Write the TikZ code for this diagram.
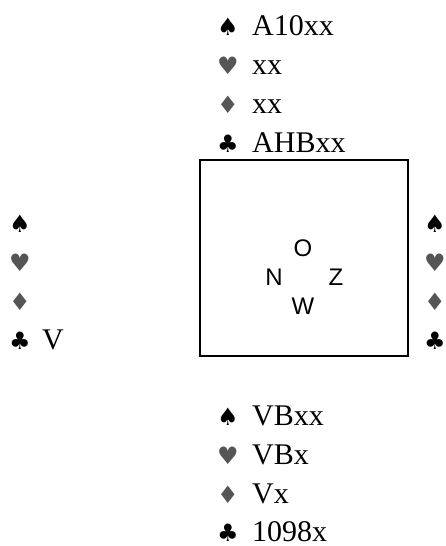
\documentclass[tikz,border=0pt]{standalone}
\usepackage{fontspec}
\setmainfont{Liberation Serif}
\newfontfamily\suitfont{DejaVu Sans}
\newfontfamily\compassfont{Liberation Sans}
\definecolor{suitgray}{HTML}{555555}
\begin{document}
\begin{tikzpicture}[x=1pt,y=-1pt,
  suit/.style={inner sep=0pt,anchor=base,font=\suitfont\fontsize{24}{24}\selectfont},
  blk/.style={suit,text=black},
  red/.style={suit,text=suitgray},
  holding/.style={inner sep=0pt,anchor=base west,font=\fontsize{30}{33}\selectfont},
  compass/.style={inner sep=0pt,anchor=center,font=\compassfont\fontsize{24}{24}\selectfont},
  table/.style={draw,line width=1.5pt}]
\useasboundingbox (0,0) rectangle (445,546);
% table
\draw[table] (200,160) rectangle (408,356);
\node[compass] (o) at (303,248) {O};
\node[compass] (n) at (274,277) {N};
\node[compass] (z) at (336,277) {Z};
\node[compass] (w) at (303,306) {W};
% north
\node[blk] (ns) at (228,35) {♠};
\node[holding] (nst) at (252,35) {A10xx};
\node[red] (nh) at (228,74) {♥};
\node[holding] (nht) at (252,74) {xx};
\node[red] (nd) at (228,113) {♦};
\node[holding] (ndt) at (252,113) {xx};
\node[blk] (nc) at (228,152) {♣};
\node[holding] (nct) at (252,152) {AHBxx};
% west
\node[blk] (ws) at (20,232) {♠};
\node[red] (wh) at (20,271) {♥};
\node[red] (wd) at (20,310) {♦};
\node[blk] (wc) at (20,349) {♣};
\node[holding] (wct) at (42,349) {V};
% east
\node[blk] (es) at (435,232) {♠};
\node[red] (eh) at (435,271) {♥};
\node[red] (ed) at (435,310) {♦};
\node[blk] (ec) at (435,349) {♣};
% south
\node[blk] (ss) at (228,425) {♠};
\node[holding] (sst) at (252,425) {VBxx};
\node[red] (sh) at (228,464) {♥};
\node[holding] (sht) at (252,464) {VBx};
\node[red] (sd) at (228,503) {♦};
\node[holding] (sdt) at (252,503) {Vx};
\node[blk] (sc) at (228,541) {♣};
\node[holding] (sct) at (252,541) {1098x};
\end{tikzpicture}
\end{document}
